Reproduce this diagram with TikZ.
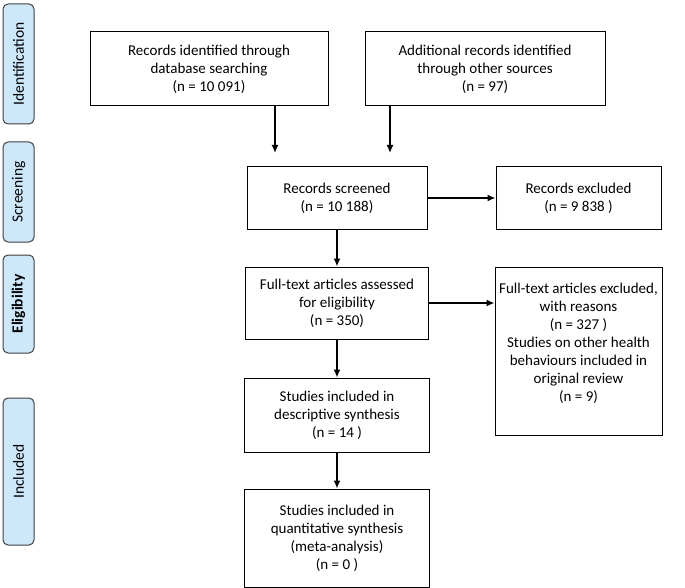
\documentclass[tikz,border=0pt]{standalone}
\usepackage{fontspec}
\setmainfont{Carlito}
\usetikzlibrary{arrows.meta,positioning}

\definecolor{stagefill}{RGB}{205,232,250}
\definecolor{stageline}{RGB}{64,64,64}

\begin{document}
\begin{tikzpicture}[x=1pt,y=-1pt,-{Latex[length=8pt,width=7pt]},line width=1.5pt,
		box/.style={draw,rectangle,line width=1pt,align=center,inner sep=3pt,
			font=\fontsize{15}{18}\selectfont},
		stage/.style={draw=stageline,fill=stagefill,rounded corners=5pt,rotate=90,
			minimum height=31pt,line width=1pt,font=\fontsize{15.5}{18}\selectfont}]

		\useasboundingbox (0,0) rectangle (685,588);

		% stages
		\node[stage,minimum width=120pt] (ident) at (18.5,64) {Identification};
		\node[stage,minimum width=100pt] (scr) at (18.5,192) {Screening};
		\node[stage,minimum width=98pt] (elig) at (18.5,304) {\bfseries Eligibility};
		\node[stage,minimum width=147pt] (incl) at (18.5,471.5) {Included};

		% flow
		\node[box,minimum width=238pt,minimum height=74pt] (db) at (209,69)
			{Records identified through\\database searching\\(n = 10 091)};
		\node[box,minimum width=240pt,minimum height=74pt] (other) at (485,69)
			{Additional records identified\\through other sources\\(n = 97)};
		\node[box,minimum width=180pt,minimum height=62pt] (screen) at (337,198)
			{Records screened\\(n = 10 188)};
		\node[box,minimum width=165pt,minimum height=62pt] (excl) [right=68pt of screen]
			{Records excluded\\(n = 9 838 )};
		\node[box,minimum width=183pt,minimum height=72pt] (full) [below=37pt of screen]
			{Full-text articles assessed\\for eligibility\\(n = 350)};
		\node[box,minimum width=167pt,minimum height=168pt] (fullex) [below=37pt of excl]
			{Full-text articles excluded,\\with reasons\\(n = 327 )\\Studies on other health\\behaviours included in\\original review\\(n = 9)\\ \mbox{}};
		\node[box,minimum width=185pt,minimum height=74pt] (desc) [below=38pt of full]
			{Studies included in\\descriptive synthesis\\(n = 14 )};
		\node[box,minimum width=185pt,minimum height=98pt] (quant) [below=36pt of desc]
			{Studies included in\\quantitative synthesis\\(meta-analysis)\\(n = 0 )};

		\coordinate (inA) at (275,153);
		\coordinate (inB) at (390,153);

		\path[every edge/.style={draw,line width=1.5pt}]
		(db.south -| inA) edge (inA)
		(other.south -| inB) edge (inB)
		(screen) edge (excl)
		(screen) edge (full)
		(full) edge (full.east -| fullex.west)
		(full) edge (desc)
		(desc) edge (quant);
	\end{tikzpicture}
\end{document}
